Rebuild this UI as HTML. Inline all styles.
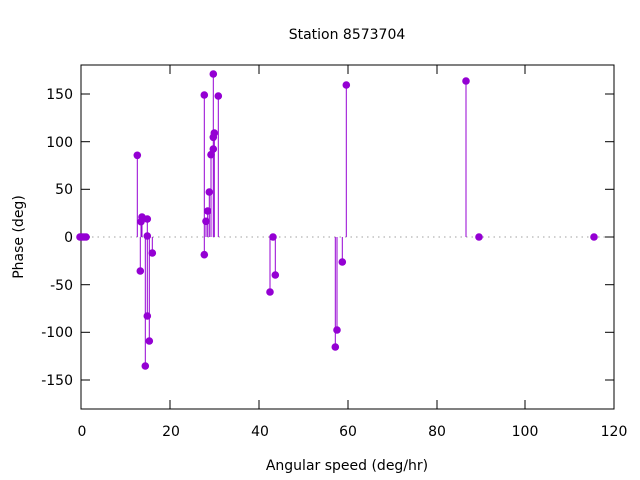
<!DOCTYPE html>
<html><head><meta charset="utf-8"><style>
html,body{margin:0;padding:0;background:#fff;}
svg{display:block;font-family:"DejaVu Sans","Liberation Sans",sans-serif;}
</style></head><body>
<svg width="640" height="480" viewBox="0 0 640 480" xmlns="http://www.w3.org/2000/svg">
<rect width="640" height="480" fill="#fff"/>
<text x="347" y="39" font-size="14" text-anchor="middle">Station 8573704</text>
<line x1="81" y1="237" x2="614" y2="237" stroke="#a0a0a0" stroke-width="1" stroke-dasharray="1.5,4"/>
<g stroke="#000" stroke-width="1">
<line x1="81" y1="380" x2="90" y2="380"/><line x1="81" y1="332.3" x2="90" y2="332.3"/><line x1="81" y1="284.7" x2="90" y2="284.7"/><line x1="81" y1="237" x2="90" y2="237"/><line x1="81" y1="189.3" x2="90" y2="189.3"/><line x1="81" y1="141.7" x2="90" y2="141.7"/><line x1="81" y1="94" x2="90" y2="94"/>
<line x1="614" y1="380" x2="605" y2="380"/><line x1="614" y1="332.3" x2="605" y2="332.3"/><line x1="614" y1="284.7" x2="605" y2="284.7"/><line x1="614" y1="237" x2="605" y2="237"/><line x1="614" y1="189.3" x2="605" y2="189.3"/><line x1="614" y1="141.7" x2="605" y2="141.7"/><line x1="614" y1="94" x2="605" y2="94"/>
<line x1="170" y1="409" x2="170" y2="400"/><line x1="259" y1="409" x2="259" y2="400"/><line x1="348" y1="409" x2="348" y2="400"/><line x1="437" y1="409" x2="437" y2="400"/><line x1="525" y1="409" x2="525" y2="400"/>
<line x1="170" y1="65" x2="170" y2="74"/><line x1="259" y1="65" x2="259" y2="74"/><line x1="348" y1="65" x2="348" y2="74"/><line x1="437" y1="65" x2="437" y2="74"/><line x1="525" y1="65" x2="525" y2="74"/>
</g>
<rect x="81" y="65" width="533" height="344" fill="none" stroke="#000" stroke-width="1"/>
<g font-size="14" text-anchor="end">
<text x="73" y="385">-150</text><text x="73" y="337">-100</text><text x="73" y="290">-50</text><text x="73" y="242">0</text><text x="73" y="194">50</text><text x="73" y="147">100</text><text x="73" y="99">150</text>
</g>
<g font-size="14" text-anchor="middle">
<text x="82" y="436">0</text><text x="171" y="436">20</text><text x="260" y="436">40</text><text x="348" y="436">60</text><text x="437" y="436">80</text><text x="525" y="436">100</text><text x="614" y="436">120</text>
<text x="347" y="470">Angular speed (deg/hr)</text>
<text transform="translate(23,237) rotate(-90)">Phase (deg)</text>
</g>
<g stroke="#9400d3" stroke-width="1">
<line x1="137.3" y1="237" x2="137.3" y2="155.3"/>
<line x1="140.3" y1="237" x2="140.3" y2="271"/>
<line x1="141" y1="237" x2="141" y2="221.7"/>
<line x1="142" y1="237" x2="142" y2="217"/>
<line x1="145.3" y1="237" x2="145.3" y2="366"/>
<line x1="147.3" y1="237" x2="147.3" y2="219"/>
<line x1="147.3" y1="237" x2="147.3" y2="316"/>
<line x1="149.3" y1="237" x2="149.3" y2="341"/>
<line x1="152.3" y1="237" x2="152.3" y2="253"/>
<line x1="204.3" y1="237" x2="204.3" y2="95"/>
<line x1="204.3" y1="237" x2="204.3" y2="254.7"/>
<line x1="206" y1="237" x2="206" y2="221.3"/>
<line x1="207.7" y1="237" x2="207.7" y2="211"/>
<line x1="209.3" y1="237" x2="209.3" y2="192"/>
<line x1="211" y1="237" x2="211" y2="154.7"/>
<line x1="213.3" y1="237" x2="213.3" y2="74"/>
<line x1="214.3" y1="237" x2="214.3" y2="133"/>
<line x1="218.3" y1="237" x2="218.3" y2="96"/>
<line x1="270" y1="237" x2="270" y2="292"/>
<line x1="275.3" y1="237" x2="275.3" y2="275"/>
<line x1="335.3" y1="237" x2="335.3" y2="347"/>
<line x1="337" y1="237" x2="337" y2="330"/>
<line x1="342.3" y1="237" x2="342.3" y2="262"/>
<line x1="346.3" y1="237" x2="346.3" y2="85"/>
<line x1="466" y1="237" x2="466" y2="81"/>
</g>
<g fill="#9400d3">
<circle cx="80" cy="237" r="3.8"/><circle cx="82" cy="237" r="3.8"/><circle cx="84" cy="237" r="3.8"/><circle cx="86" cy="237" r="3.8"/>
<circle cx="137.3" cy="155.3" r="3.8"/><circle cx="140.3" cy="271" r="3.8"/><circle cx="141" cy="221.7" r="3.8"/><circle cx="142" cy="217" r="3.8"/>
<circle cx="145.3" cy="366" r="3.8"/><circle cx="147.3" cy="219" r="3.8"/><circle cx="147.3" cy="236" r="3.8"/><circle cx="147.3" cy="316" r="3.8"/>
<circle cx="149.3" cy="341" r="3.8"/><circle cx="152.3" cy="253" r="3.8"/>
<circle cx="204.3" cy="95" r="3.8"/><circle cx="204.3" cy="254.7" r="3.8"/><circle cx="206" cy="221.3" r="3.8"/><circle cx="207.7" cy="211" r="3.8"/>
<circle cx="209.3" cy="192" r="3.8"/><circle cx="211" cy="154.7" r="3.8"/><circle cx="213.3" cy="74" r="3.8"/><circle cx="213.3" cy="149" r="3.8"/>
<circle cx="213.3" cy="137.3" r="3.8"/><circle cx="214.3" cy="133" r="3.8"/><circle cx="218.3" cy="96" r="3.8"/>
<circle cx="270" cy="292" r="3.8"/><circle cx="273" cy="237" r="3.8"/><circle cx="275.3" cy="275" r="3.8"/>
<circle cx="335.3" cy="347" r="3.8"/><circle cx="337" cy="330" r="3.8"/><circle cx="342.3" cy="262" r="3.8"/><circle cx="346.3" cy="85" r="3.8"/>
<circle cx="466" cy="81" r="3.8"/><circle cx="479" cy="237" r="3.8"/><circle cx="594" cy="237" r="3.8"/>
</g>
</svg>
</body></html>
